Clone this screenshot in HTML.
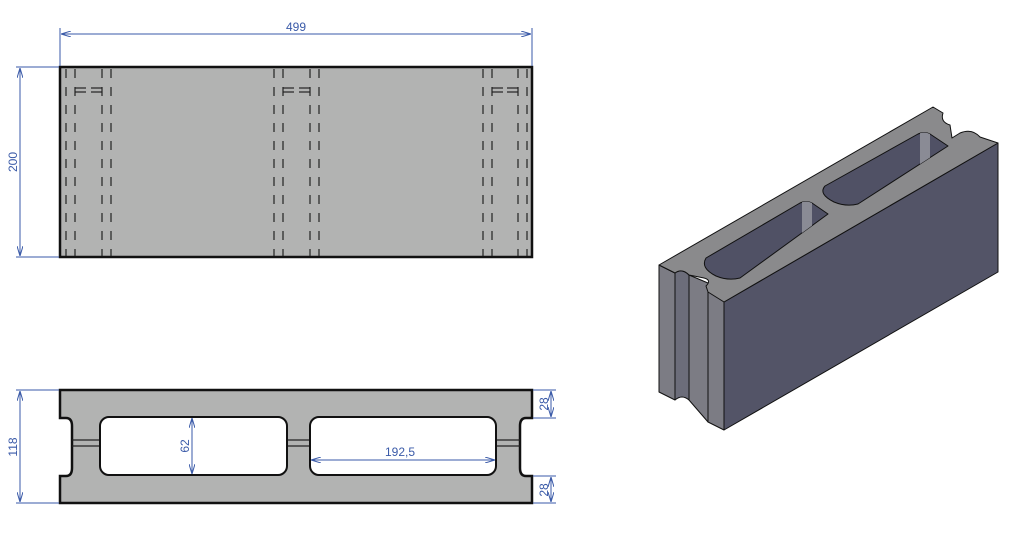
<!DOCTYPE html>
<html><head><style>
html,body{margin:0;padding:0;background:#fff;}
svg{display:block;}
text{font-family:"Liberation Sans",sans-serif;font-size:12px;fill:#3a5aa8;}
</style></head><body>
<svg width="1016" height="556" viewBox="0 0 1016 556" xmlns="http://www.w3.org/2000/svg">
<defs>
<marker id="a" viewBox="0 0 10 6" refX="10" refY="3" markerWidth="10" markerHeight="6" orient="auto-start-reverse" markerUnits="userSpaceOnUse">
<path d="M0,0 L10,3 L0,6" fill="none" stroke="#3a5aa8" stroke-width="1"/></marker>
<clipPath id="h1"><path d="M706,258 L800,203 Q806,200 812,203 L828,214 L740,278 Q728,281 716,276 Q700,268 706,258 Z"/></clipPath>
<clipPath id="h2"><path d="M825,186 L918,134 Q924,131 930,134 L948,146 L858,204 Q846,207 834,202 Q818,194 825,186 Z"/></clipPath>
</defs>

<rect x="60" y="67" width="472" height="190" fill="#b2b3b2" stroke="#111" stroke-width="2.5"/>
<g stroke="#222" stroke-width="1.2" stroke-dasharray="9,9">
<line x1="66" y1="69" x2="66" y2="256"/><line x1="75" y1="69" x2="75" y2="256"/>
<line x1="102" y1="69" x2="102" y2="256"/><line x1="111" y1="69" x2="111" y2="256"/>
<line x1="274" y1="69" x2="274" y2="256"/><line x1="283" y1="69" x2="283" y2="256"/>
<line x1="310" y1="69" x2="310" y2="256"/><line x1="319" y1="69" x2="319" y2="256"/>
<line x1="483" y1="69" x2="483" y2="256"/><line x1="492" y1="69" x2="492" y2="256"/>
<line x1="518" y1="69" x2="518" y2="256"/><line x1="527" y1="69" x2="527" y2="256"/>
</g>
<g stroke="#222" stroke-width="1.2">
<line x1="75" y1="88" x2="86" y2="88"/><line x1="75" y1="92" x2="86" y2="92"/>
<line x1="91" y1="88" x2="102" y2="88"/><line x1="91" y1="92" x2="102" y2="92"/>
<line x1="283" y1="88" x2="294" y2="88"/><line x1="283" y1="92" x2="294" y2="92"/>
<line x1="299" y1="88" x2="310" y2="88"/><line x1="299" y1="92" x2="310" y2="92"/>
<line x1="492" y1="88" x2="503" y2="88"/><line x1="492" y1="92" x2="503" y2="92"/>
<line x1="507" y1="88" x2="518" y2="88"/><line x1="507" y1="92" x2="518" y2="92"/>
</g>
<g stroke="#3a5aa8" stroke-width="1" fill="none">
<line x1="60" y1="28" x2="60" y2="66"/><line x1="532" y1="28" x2="532" y2="66"/>
<line x1="61" y1="34" x2="531" y2="34" marker-start="url(#a)" marker-end="url(#a)"/>
<line x1="16" y1="67" x2="59" y2="67"/><line x1="16" y1="257" x2="59" y2="257"/>
<line x1="20" y1="68" x2="20" y2="256" marker-start="url(#a)" marker-end="url(#a)"/>
</g>
<text x="296" y="31" text-anchor="middle">499</text>
<text transform="translate(17,162) rotate(-90)" text-anchor="middle">200</text>

<path d="M60,390 H532 V418 H526 Q520,418 520,426 V468 Q520,476 526,476 H532 V503 H60 V476 H66 Q72,476 72,468 V426 Q72,418 66,418 H60 Z" fill="#b2b3b2" stroke="#111" stroke-width="2.5"/>
<g stroke="#222" stroke-width="1.2">
<line x1="72" y1="440" x2="520" y2="440"/><line x1="72" y1="446" x2="520" y2="446"/>
</g>
<rect x="100" y="417" width="187" height="58" rx="9" fill="#fff" stroke="#111" stroke-width="2"/>
<rect x="310" y="417" width="186" height="58" rx="9" fill="#fff" stroke="#111" stroke-width="2"/>
<g stroke="#3a5aa8" stroke-width="1" fill="none">
<line x1="16" y1="390" x2="59" y2="390"/><line x1="16" y1="503" x2="59" y2="503"/>
<line x1="20" y1="391" x2="20" y2="502" marker-start="url(#a)" marker-end="url(#a)"/>
<line x1="533" y1="390" x2="556" y2="390"/><line x1="533" y1="418" x2="556" y2="418"/>
<line x1="533" y1="476" x2="556" y2="476"/><line x1="533" y1="503" x2="556" y2="503"/>
<line x1="551" y1="391" x2="551" y2="417" marker-start="url(#a)" marker-end="url(#a)"/>
<line x1="551" y1="477" x2="551" y2="502" marker-start="url(#a)" marker-end="url(#a)"/>
<line x1="192" y1="418" x2="192" y2="474" marker-start="url(#a)" marker-end="url(#a)"/>
<line x1="311" y1="460" x2="495" y2="460" marker-start="url(#a)" marker-end="url(#a)"/>
</g>
<text transform="translate(17,447) rotate(-90)" text-anchor="middle">118</text>
<text transform="translate(548,404) rotate(-90)" text-anchor="middle">28</text>
<text transform="translate(548,490) rotate(-90)" text-anchor="middle">28</text>
<text transform="translate(189,446) rotate(-90)" text-anchor="middle">62</text>
<text x="400" y="456" text-anchor="middle">192,5</text>

<g stroke="#111" stroke-width="1" stroke-linejoin="round">
<path d="M659,265 L675,273 L675,400 L659,392 Z" fill="#7c7c84"/>
<path d="M675,273 Q682,268 689,275 L689,400 Q682,394 675,400 Z" fill="#6c6d7a"/>
<path d="M689,275 L708,283 L708,422 L689,400 Z" fill="#7c7c84"/>
<path d="M708,283 L724,302 L724,430 L708,422 Z" fill="#7c7c84"/>
<path d="M724,302 L998,143 L998,272 L724,430 Z" fill="#535467"/>
<path d="M659,265 L933,107 L943,113 Q940,122 950,125 L952,138 L960,133 Q972,128 980,137 L998,143 L724,302 L708,292 L706,286 Q712,280 704,278 L689,275 Q682,268 675,273 Z" fill="#8a8a8c"/>
<path d="M706,258 L800,203 Q806,200 812,203 L828,214 L740,278 Q728,281 716,276 Q700,268 706,258 Z" fill="#505165"/>
<g clip-path="url(#h1)"><rect x="802" y="200" width="10" height="40" fill="#8a8b95" stroke="none"/></g>
<path d="M825,186 L918,134 Q924,131 930,134 L948,146 L858,204 Q846,207 834,202 Q818,194 825,186 Z" fill="#505165"/>
<g clip-path="url(#h2)"><rect x="920" y="131" width="10" height="40" fill="#8a8b95" stroke="none"/></g>
</g>
</svg>
</body></html>
